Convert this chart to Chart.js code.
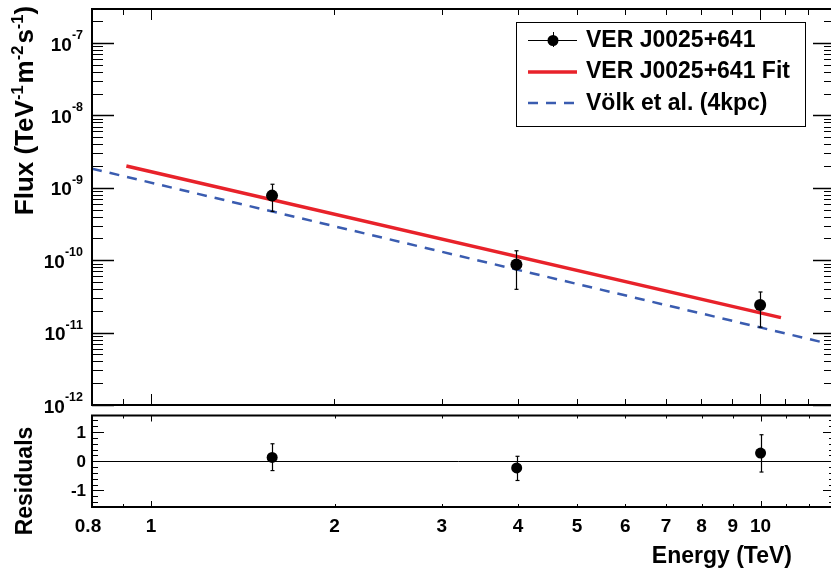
<!DOCTYPE html>
<html><head><meta charset="utf-8">
<script src="https://cdn.jsdelivr.net/npm/chart.js@4/dist/chart.umd.min.js"></script>
<style>
html,body{margin:0;padding:0;background:#fff;overflow:hidden;width:831px;height:572px;}
#cTop{position:absolute;left:0;top:0;}
#cBot{position:absolute;left:0;top:410px;}
</style></head><body>
<canvas id="cTop" width="831" height="422"></canvas>
<canvas id="cBot" width="831" height="162"></canvas>
<script>
// ---- data ----
const energy = [1.58, 3.98, 10.0];
const flux = [7.8e-10, 8.7e-11, 2.41e-11];
const fluxErrHigh = [1.12e-9, 1.35e-10, 3.64e-11];
const fluxErrLow = [4.73e-10, 3.96e-11, 1.19e-11];
const fitEnergy = [0.911, 10.82];
const fitFlux = [2.0e-9, 1.61e-11];
const volkEnergy = [0.8, 13.0];
const volkFlux = [1.84e-9, 6.97e-12];
const residuals = [0.13, -0.23, 0.28];
const residErrHigh = [0.6, 0.17, 0.91];
const residErrLow = [-0.32, -0.66, -0.37];
const xTickLabels = [0.8, 1, 2, 3, 4, 5, 6, 7, 8, 9, 10];
const xMajorTicks = [1, 10];
const xMinorTicks = [0.9, 2, 3, 4, 5, 6, 7, 8, 9, 11, 12];
const yDecades = [-12, -11, -10, -9, -8, -7];
const residTicks = [-1, 0, 1];
const legendLabels = ['VER J0025+641', 'VER J0025+641 Fit', 'Völk et al. (4kpc)'];

const FONT = '"Liberation Sans", Arial, Helvetica, sans-serif';
const RED = '#e8222a';
const BLUE = '#3a5cb0';
const RIGHT_EDGE = 835; // frame's right side lies just beyond the picture

function line(ctx, x1, y1, x2, y2) { ctx.beginPath(); ctx.moveTo(x1, y1); ctx.lineTo(x2, y2); ctx.stroke(); }

function drawErrorBars(ctx, xs, ys, lo, hi, xScale, yScale, cap) {
  ctx.save();
  ctx.strokeStyle = '#000'; ctx.lineWidth = 1.2;
  for (let i = 0; i < xs.length; i++) {
    const px = Math.round(xScale.getPixelForValue(xs[i])) + 0.5;
    const pLo = yScale.getPixelForValue(lo[i]);
    const pHi = yScale.getPixelForValue(hi[i]);
    line(ctx, px, pLo, px, pHi);
    line(ctx, px - cap, pLo, px + cap, pLo);
    line(ctx, px - cap, pHi, px + cap, pHi);
  }
  ctx.restore();
}

function drawXTicks(ctx, xScale, a, majLen, minLen) {
  ctx.save(); ctx.strokeStyle = '#000'; ctx.lineWidth = 1;
  const all = xMajorTicks.map(v => [v, majLen]).concat(xMinorTicks.map(v => [v, minLen]));
  for (const [v, len] of all) {
    const px = Math.round(xScale.getPixelForValue(v)) + 0.5;
    line(ctx, px, a.top, px, a.top + len);
    line(ctx, px, a.bottom, px, a.bottom - len);
  }
  ctx.restore();
}

function drawFrame(ctx, a) {
  ctx.save(); ctx.strokeStyle = '#000'; ctx.lineWidth = 2;
  ctx.beginPath();
  ctx.moveTo(RIGHT_EDGE, a.top); ctx.lineTo(a.left, a.top); ctx.lineTo(a.left, a.bottom); ctx.lineTo(RIGHT_EDGE, a.bottom);
  ctx.stroke();
  ctx.restore();
}

function drawSupParts(ctx, parts, x, y, big, small, raise) {
  let cx = x;
  for (const p of parts) {
    if (p.gap) { cx += p.gap; continue; }
    ctx.font = 'bold ' + (p.sup ? small : big) + 'px ' + FONT;
    ctx.fillText(p.t, cx, p.sup ? y - raise : y);
    cx += ctx.measureText(p.t).width;
  }
  return cx - x;
}
function measureSupParts(ctx, parts, big, small) {
  let w = 0;
  for (const p of parts) {
    if (p.gap) { w += p.gap; continue; }
    ctx.font = 'bold ' + (p.sup ? small : big) + 'px ' + FONT; w += ctx.measureText(p.t).width;
  }
  return w;
}

const topPlugin = {
  id: 'topDecor',
  afterDatasetsDraw(chart) {
    const { ctx, scales: { x, y } } = chart;
    drawErrorBars(ctx, energy, flux, fluxErrLow, fluxErrHigh, x, y, 2);
  },
  afterDraw(chart) {
    const { ctx, chartArea: a, scales: { x, y } } = chart;
    drawFrame(ctx, a);
    drawXTicks(ctx, x, a, 11, 6);
    ctx.save(); ctx.strokeStyle = '#000';
    for (const d of yDecades) {
      const base = Math.pow(10, d);
      const py = Math.round(y.getPixelForValue(base)) + 0.5;
      ctx.lineWidth = 1.5;
      line(ctx, a.left, py, a.left + 22, py);
      line(ctx, RIGHT_EDGE, py, RIGHT_EDGE - 22, py);
      ctx.lineWidth = 1;
      for (let k = 2; k <= 9; k++) {
        const v = k * base;
        if (v > y.max) break;
        const pm = Math.round(y.getPixelForValue(v)) + 0.5;
        line(ctx, a.left, pm, a.left + 11, pm);
        line(ctx, RIGHT_EDGE, pm, RIGHT_EDGE - 11, pm);
      }
    }
    ctx.fillStyle = '#000'; ctx.textBaseline = 'alphabetic'; ctx.textAlign = 'left';
    for (const d of yDecades) {
      const py = y.getPixelForValue(Math.pow(10, d));
      const parts = [{ t: '10' }, { t: String(d), sup: true }];
      const w = measureSupParts(ctx, parts, 19, 12.5);
      drawSupParts(ctx, parts, 83 - w, py + 7.5, 19, 12.5, 11.5);
    }
    const tparts = [{ t: 'Flux (TeV' }, { t: '-1', sup: true }, { gap: 2 }, { t: 'm' }, { t: '-2', sup: true }, { gap: 2 }, { t: 's' }, { t: '-1', sup: true }, { t: ')' }];
    ctx.save();
    ctx.translate(33, 110.5);
    ctx.rotate(-Math.PI / 2);
    const tw = measureSupParts(ctx, tparts, 26, 16.5);
    drawSupParts(ctx, tparts, -tw / 2, 0, 26, 16.5, 10);
    ctx.restore();
    // legend
    ctx.lineWidth = 1; ctx.strokeStyle = '#000';
    ctx.strokeRect(516.5, 22.5, 289, 104);
    const rowsY = [40, 72, 103];
    const base = [47, 78, 110];
    line(ctx, 528, rowsY[0] + 0.5, 577, rowsY[0] + 0.5);
    line(ctx, 553.5, 32, 553.5, 47);
    ctx.beginPath(); ctx.arc(553, rowsY[0] + 0.5, 5.5, 0, Math.PI * 2); ctx.fillStyle = '#000'; ctx.fill();
    ctx.strokeStyle = RED; ctx.lineWidth = 3.5;
    line(ctx, 528, rowsY[1], 577, rowsY[1]);
    ctx.strokeStyle = BLUE; ctx.lineWidth = 2.5; ctx.setLineDash([10, 8]);
    line(ctx, 528, rowsY[2], 577, rowsY[2]);
    ctx.setLineDash([]);
    ctx.fillStyle = '#000'; ctx.font = 'bold 23px ' + FONT; ctx.textAlign = 'left';
    legendLabels.forEach((t, i) => ctx.fillText(t, 586, base[i]));
    ctx.restore();
  }
};

const botPlugin = {
  id: 'botDecor',
  beforeDatasetsDraw(chart) {
    const { ctx, chartArea: a, scales: { y } } = chart;
    ctx.save(); ctx.strokeStyle = '#000'; ctx.lineWidth = 1;
    const p0 = Math.round(y.getPixelForValue(0)) + 0.5;
    line(ctx, a.left, p0, a.right, p0);
    ctx.restore();
  },
  afterDatasetsDraw(chart) {
    const { ctx, scales: { x, y } } = chart;
    drawErrorBars(ctx, energy, residuals, residErrLow, residErrHigh, x, y, 2);
  },
  afterDraw(chart) {
    const { ctx, chartArea: a, scales: { x, y } } = chart;
    drawFrame(ctx, a);
    drawXTicks(ctx, x, a, 6, 3);
    ctx.save(); ctx.strokeStyle = '#000'; ctx.lineWidth = 1;
    for (let v = -1.4; v <= 1.41; v += 0.2) {
      const r = Math.round(v * 10) / 10;
      const major = Math.abs(r - Math.round(r)) < 1e-6;
      const len = major ? 12 : 6;
      const py = Math.round(y.getPixelForValue(r)) + 0.5;
      line(ctx, a.left, py, a.left + len, py);
      line(ctx, RIGHT_EDGE, py, RIGHT_EDGE - len, py);
    }
    ctx.fillStyle = '#000';
    ctx.font = 'bold 17px ' + FONT; ctx.textAlign = 'right'; ctx.textBaseline = 'middle';
    for (const t of residTicks) ctx.fillText(String(t), 86, y.getPixelForValue(t) + 1);
    ctx.font = 'bold 19px ' + FONT; ctx.textAlign = 'center'; ctx.textBaseline = 'alphabetic';
    for (const t of xTickLabels) {
      let px = x.getPixelForValue(t);
      if (t === 0.8) px -= 4;
      ctx.fillText(String(t), px, 122);
    }
    ctx.font = 'bold 23px ' + FONT; ctx.textAlign = 'right';
    ctx.fillText('Energy (TeV)', 792, 153);
    ctx.save();
    ctx.translate(32, 71); ctx.rotate(-Math.PI / 2);
    ctx.textAlign = 'center'; ctx.font = 'bold 23px ' + FONT;
    ctx.fillText('Residuals', 0, 0);
    ctx.restore();
    ctx.restore();
  }
};

const pts = (xs, ys) => xs.map((v, i) => ({ x: v, y: ys[i] }));

new Chart(document.getElementById('cTop'), {
  type: 'scatter',
  data: {
    datasets: [
      { label: legendLabels[0], data: pts(energy, flux), backgroundColor: '#000', borderColor: '#000', pointRadius: 6, pointBorderWidth: 0, order: 0 },
      { label: legendLabels[1], type: 'line', data: pts(fitEnergy, fitFlux), borderColor: RED, borderWidth: 3.5, pointRadius: 0, fill: false, order: 1 },
      { label: legendLabels[2], type: 'line', data: pts(volkEnergy, volkFlux), borderColor: BLUE, borderWidth: 2.5, borderDash: [10, 8], pointRadius: 0, fill: false, order: 2 }
    ]
  },
  options: {
    responsive: false, animation: false,
    layout: { padding: { left: 92, top: 9, right: 0, bottom: 17 } },
    scales: {
      x: { type: 'logarithmic', min: 0.8, max: 12.78, display: false },
      y: { type: 'logarithmic', min: 1e-12, max: 2.95e-7, display: false }
    },
    plugins: { legend: { display: false }, tooltip: { enabled: false } }
  },
  plugins: [topPlugin]
});

new Chart(document.getElementById('cBot'), {
  type: 'scatter',
  data: {
    datasets: [
      { label: 'Residuals', data: pts(energy, residuals), backgroundColor: '#000', borderColor: '#000', pointRadius: 5.5, pointBorderWidth: 0 }
    ]
  },
  options: {
    responsive: false, animation: false,
    layout: { padding: { left: 92, top: 3, right: 0, bottom: 65 } },
    scales: {
      x: { type: 'logarithmic', min: 0.8, max: 12.78, display: false },
      y: { type: 'linear', min: -1.57, max: 1.57, display: false }
    },
    plugins: { legend: { display: false }, tooltip: { enabled: false } }
  },
  plugins: [botPlugin]
});
</script>
</body></html>
